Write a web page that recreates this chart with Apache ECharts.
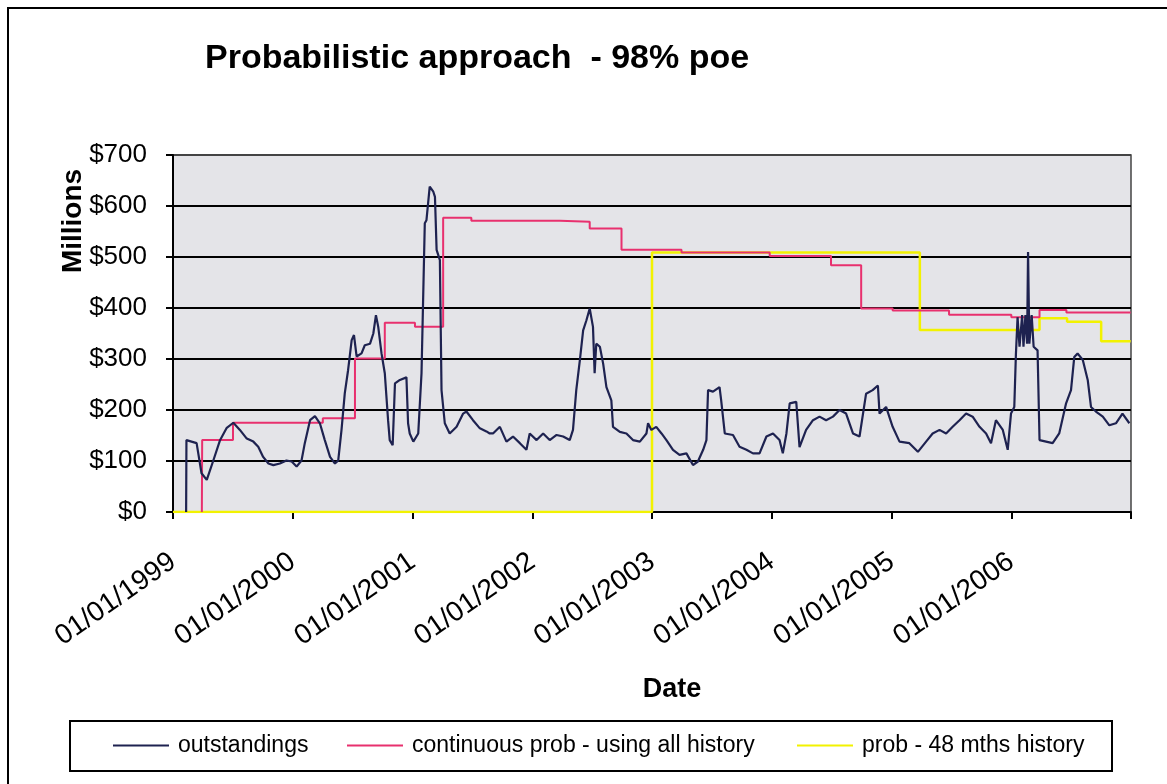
<!DOCTYPE html>
<html>
<head>
<meta charset="utf-8">
<script src="https://cdn.jsdelivr.net/npm/echarts@6/dist/echarts.min.js"></script>
<style>
html,body{margin:0;padding:0;background:#fff;}
#chart{width:1167px;height:784px;}
</style>
</head>
<body>
<div id="chart"></div>
<script>
var seriesNames = ['outstandings', 'continuous prob - using all history', 'prob - 48 mths history'];

var outstandingsDates = ['1999-02-10','1999-02-11','1999-03-14','1999-03-29','1999-04-14','1999-05-04','1999-05-24','1999-06-14','1999-07-04','1999-07-24','1999-08-14','1999-09-03','1999-09-18','1999-10-03','1999-10-19','1999-11-03','1999-11-23','1999-12-13','1999-12-29',
'2000-01-13','2000-01-28','2000-02-07','2000-02-23','2000-03-09','2000-03-24','2000-04-08','2000-04-24','2000-05-09','2000-05-19','2000-05-29','2000-06-08','2000-06-18','2000-06-29','2000-07-06','2000-07-14','2000-07-29','2000-08-08','2000-08-24','2000-09-03','2000-09-11','2000-09-18','2000-09-28','2000-10-08','2000-10-18','2000-10-23','2000-11-01','2000-11-08','2000-11-23','2000-12-13','2000-12-18','2000-12-23',
'2001-01-03','2001-01-18','2001-01-28','2001-02-07','2001-02-12','2001-02-22','2001-03-05','2001-03-10','2001-03-15','2001-03-25','2001-03-30','2001-04-09','2001-04-24','2001-05-15','2001-06-04','2001-06-14','2001-07-04','2001-07-25','2001-08-14','2001-08-24','2001-09-03','2001-09-24','2001-10-14','2001-11-03','2001-11-24','2001-12-14','2001-12-24',
'2002-01-14','2002-02-03','2002-02-23','2002-03-16','2002-04-05','2002-04-25','2002-05-05','2002-05-15','2002-05-26','2002-06-05','2002-06-15','2002-06-25','2002-07-05','2002-07-10','2002-07-15','2002-07-26','2002-08-05','2002-08-15','2002-08-30','2002-09-04','2002-09-25','2002-10-15','2002-11-04','2002-11-25','2002-12-15','2002-12-20','2002-12-30',
'2003-01-14','2003-01-30','2003-02-14','2003-03-06','2003-03-26','2003-04-16','2003-05-06','2003-05-21','2003-06-06','2003-06-16','2003-06-21','2003-07-06','2003-07-26','2003-07-31','2003-08-11','2003-09-05','2003-09-25','2003-10-16','2003-11-05','2003-11-25','2003-12-16',
'2004-01-05','2004-01-25','2004-02-04','2004-02-15','2004-02-25','2004-03-16','2004-03-26','2004-04-15','2004-05-06','2004-05-26','2004-06-15','2004-07-06','2004-07-26','2004-08-15','2004-09-05','2004-09-25','2004-10-15','2004-11-04','2004-11-20','2004-11-25','2004-12-15',
'2005-01-04','2005-01-25','2005-02-24','2005-03-22','2005-04-16','2005-05-06','2005-05-27','2005-06-16','2005-07-06','2005-07-27','2005-08-16','2005-09-05','2005-09-26','2005-10-16','2005-10-31','2005-11-15','2005-12-06','2005-12-21','2005-12-31',
'2006-01-10','2006-01-15','2006-01-20','2006-01-26','2006-02-03','2006-02-07','2006-02-13','2006-02-18','2006-02-21','2006-02-25','2006-03-04','2006-03-10','2006-03-22','2006-03-28','2006-04-17','2006-05-07','2006-05-27','2006-06-17','2006-07-02','2006-07-12','2006-07-22','2006-08-07','2006-08-22','2006-09-01','2006-09-16','2006-10-07','2006-10-27','2006-11-16','2006-12-06','2006-12-27'];

var outstandingsValues = [0,141,135,76,63,101,140,165,175,161,144,138,128,108,95,92,95,101,99,
89,101,135,180,188,174,141,108,95,101,161,233,278,337,347,305,311,327,330,350,386,363,311,272,180,141,131,252,259,264,174,154,
138,154,272,566,572,638,628,618,514,494,239,174,154,167,193,197,180,164,158,154,154,167,138,148,135,122,154,
141,154,141,151,148,141,161,239,298,356,376,399,363,272,330,324,291,245,219,167,157,154,141,138,154,174,161,
167,154,141,122,112,115,92,99,122,141,239,236,245,219,154,151,128,122,115,115,148,
154,141,115,154,213,216,127,161,180,187,180,187,200,193,154,148,232,239,248,193,206,
167,138,135,118,138,154,161,154,167,180,193,187,167,154,135,180,161,122,193,
206,310,382,324,386,324,386,330,510,330,386,324,317,141,138,135,154,213,239,304,311,298,259,206,197,187,170,174,193,174];

var continuousDates = ['1999-03-30','1999-03-31','1999-07-03','2000-04-02','2000-07-09','2000-10-08','2001-01-08','2001-04-04','2001-06-29','2002-03-26','2002-06-25','2002-09-30','2003-04-01','2003-12-26','2004-06-30','2004-09-30','2005-01-04','2005-06-25','2006-01-01','2006-03-28','2006-06-18','2006-12-31'];
var continuousValues = [0,141,175,184,301,371,363,577,571,569,556,514,509,502,484,399,395,387,382,396,391,391];

var prob48Dates = ['1999-01-01','2003-01-01','2005-03-28','2006-03-28','2006-06-20','2006-10-02','2006-12-31'];
var prob48Values = [0,509,357,380,373,335,335];

var yMin = 0, yMax = 700, yStep = 100;
var xMin = '1999-01-01', xMax = '2007-01-01';
var hiddenYearLabel = 2007;

function pairs(d, v) { return d.map(function (x, i) { return [x, v[i]]; }); }

var FONT = "'Liberation Sans', Arial, Helvetica, sans-serif";
var chart = echarts.init(document.getElementById('chart'), null, {renderer: 'canvas'});

function legendAt(name, left) {
  return {
    data: [name], left: left, top: 734, orient: 'horizontal',
    icon: 'rect', itemWidth: 56, itemHeight: 2, itemGap: 0,
    padding: 0, selectedMode: false,
    textStyle: {fontFamily: FONT, fontSize: 23, color: '#000', padding: [0, 0, 0, 4]}
  };
}

var option = {
  animation: false,
  backgroundColor: '#fff',
  grid: {left: 173, right: 36, top: 155, bottom: 272, show: true, backgroundColor: '#e4e4e8', borderColor: '#444', borderWidth: 1.5},
  legend: [legendAt(seriesNames[0], 113), legendAt(seriesNames[1], 347), legendAt(seriesNames[2], 797)],
  xAxis: {
    type: 'time', min: xMin, max: xMax,
    minInterval: 365 * 86400000, maxInterval: 366 * 86400000,
    splitLine: {show: false},
    axisLine: {lineStyle: {color: '#000', width: 2}},
    axisTick: {show: true, length: 7, lineStyle: {color: '#000', width: 2}},
    axisLabel: {
      rotate: 35, margin: 47, fontFamily: FONT, fontSize: 28, color: '#000',
      showMinLabel: true, showMaxLabel: true, hideOverlap: false,
      formatter: function (val) {
        var d = new Date(val);
        var y = d.getFullYear();
        if (y === hiddenYearLabel) return '';
        return '01/01/' + y;
      }
    }
  },
  yAxis: {
    type: 'value', min: yMin, max: yMax, interval: yStep,
    axisLine: {show: true, lineStyle: {color: '#000', width: 2}},
    axisTick: {show: true, length: 7, lineStyle: {color: '#000', width: 2}},
    splitLine: {show: true, lineStyle: {color: ['#000','#000','#000','#000','#000','#000','#000','#444'], width: 2}},
    axisLabel: {margin: 26, fontFamily: FONT, fontSize: 26, color: '#000', formatter: function (v) { return '$' + v; }}
  },
  series: [
    {name: seriesNames[2], type: 'line', step: 'end', showSymbol: false, symbol: 'none', data: pairs(prob48Dates, prob48Values), lineStyle: {color: '#f2f200', width: 2.5}, itemStyle: {color: '#f2f200'}, z: 3},
    {name: seriesNames[1], type: 'line', step: 'end', showSymbol: false, symbol: 'none', data: pairs(continuousDates, continuousValues), lineStyle: {color: '#e8306e', width: 2}, itemStyle: {color: '#e8306e'}, z: 4},
    {name: seriesNames[0], type: 'line', showSymbol: false, symbol: 'none', data: pairs(outstandingsDates, outstandingsValues), lineStyle: {color: '#1e2250', width: 2.2}, itemStyle: {color: '#1e2250'}, z: 5}
  ],
  graphic: [
    {type: 'rect', shape: {x: 8, y: 8, width: 1180, height: 800}, style: {fill: 'none', stroke: '#000', lineWidth: 2}, silent: true, z: -10},
    {type: 'rect', shape: {x: 70, y: 721, width: 1042, height: 50}, style: {fill: '#fff', stroke: '#000', lineWidth: 2}, silent: true, z: -5},
    {type: 'text', x: 205, y: 59, style: {text: 'Probabilistic approach  - 98% poe', font: 'bold 34px ' + FONT, fill: '#000', textVerticalAlign: 'middle', verticalAlign: 'middle'}},
    {type: 'text', x: 672, y: 690, style: {text: 'Date', font: 'bold 27px ' + FONT, fill: '#000', textAlign: 'center', align: 'center', textVerticalAlign: 'middle', verticalAlign: 'middle'}},
    {type: 'text', x: 73, y: 221, rotation: Math.PI / 2, style: {text: 'Millions', font: 'bold 28px ' + FONT, fill: '#000', textAlign: 'center', align: 'center', textVerticalAlign: 'middle', verticalAlign: 'middle'}}
  ]
};
chart.setOption(option);
</script>
</body>
</html>
